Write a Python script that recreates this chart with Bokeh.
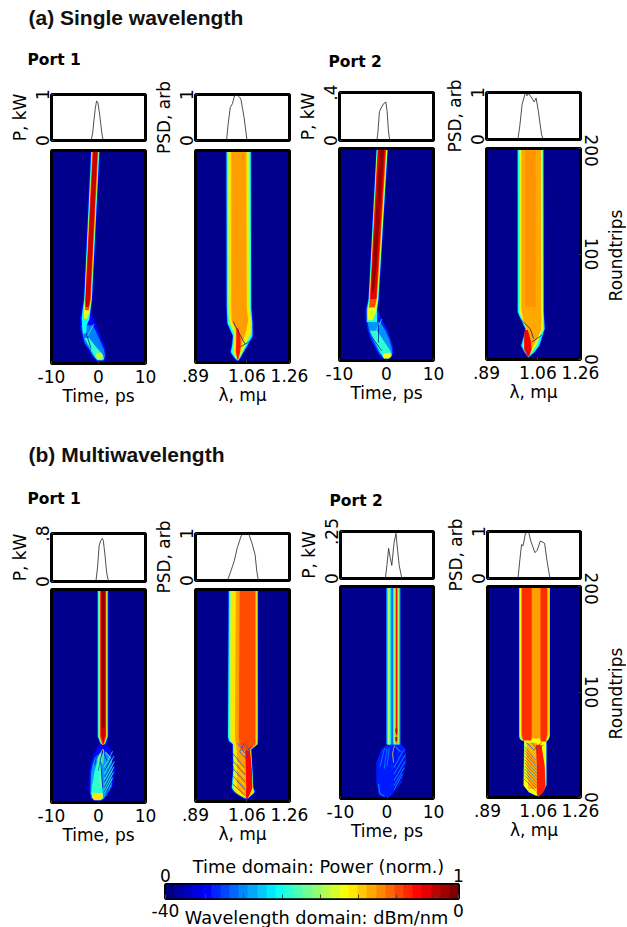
from bokeh.plotting import figure
from bokeh.layouts import column
from bokeh.models import Range1d, FixedTicker, LinearAxis, LinearColorMapper
from bokeh.embed import file_html
from bokeh.resources import INLINE
from bokeh.core.properties import value
import numpy as np
import math

# ---------- line panels: (x, y) ----------
A1T_X = [-1.78,-1.5,-1.23,-.96,-.68,-.41,-.14,.2,.55,.82,1.1]
A1T_Y = [0,.03,.17,.45,.7,.86,.83,.6,.3,.08,0]
A1S_X = [33,34.7,37,39.3,41.4,43.8,46.5,48.3,50,51.7,54.5,55.9]
A1S_Y = [0,.35,.72,.8,.97,1,.95,.9,.7,.5,.05,0]
A2T_X = [-2.05,-1.85,-1.5,-1.03,-.55,-.14,.14,.41,.69]
A2T_Y = [0,.06,.24,.28,.31,.32,.24,.08,0]
A2S_X = [33.4,35.5,37.9,41.4,43.1,44.8,48.3,50.7,52.8,55.2,58.6,60.3]
A2S_Y = [0,.3,.75,1,.93,.98,.88,.8,.88,.6,.1,0]
B1T_X = [-.55,-.2,.14,.48,.83,1.03,1.38,1.72,2,2.55]
B1T_Y = [0,.24,.6,.68,.72,.68,.44,.16,.04,0]
B1S_X = [34,37.6,41,44.5,48.6,51.4,56.5,60,63.4,65.2,66.9]
B1S_Y = [0,.2,.4,.7,.95,1,1,.8,.55,.2,0]
B2T_X = [-.35,0,.35,.69,1.03,1.52,1.93,2.28,2.62,3.2]
B2T_Y = [0,.075,.16,.11,.07,.19,.24,.15,.07,0]
B2S_X = [32.8,34.8,36.6,38.3,40.7,44.1,46.5,51,53.4,56.9,61.4,63.8,65.9,67.2]
B2S_Y = [0,.4,.72,.7,.95,1,.8,.55,.6,.8,.75,.4,.15,0]

# ---------- heat panels: nested level outlines (level, roundtrips, left, right) ----------
A1T_LAYERS = [
 (.13,[200,60,50,42,38,30,22,14,8,3,.5],[-1.75,-3.25,-3.7,-4,-3.9,-3.8,-3.4,-2.5,-1.6,-.6,-.3],[.35,-1.25,-1.5,-1.1,-.6,.1,.75,1.45,1.65,1.45,.75]),
 (.25,[36,28,20,13,7,3],[-3.7,-3.4,-3,-2,-1.2,-.3],[-1.2,-.3,.5,1.2,1.4,1.1]),
 (.38,[200,60,50,42,36,28],[-1.55,-3.05,-3.4,-3.6,-3.5,-3.3],[.2,-1.4,-1.7,-1.9,-2.5,-2.6]),
 (.42,[24,16,10,5,3],[-3,-2,-1.3,-.6,-.2],[-2,-.6,.6,1.2,.9]),
 (.56,[10,7,4],[-.6,-.5,-.2],[.6,1,.7]),
 (.6,[200,60,48,42],[-1.4,-2.95,-3.1,-3.1],[.05,-1.55,-1.9,-2.4]),
 (.8,[200,60,50],[-1.3,-2.85,-2.85],[-.05,-1.65,-2.05]),
 (.93,[200,60,53],[-1.15,-2.75,-2.7],[-.2,-1.8,-2.1]),
]
A1S_LAYERS = [
 (.15,[200,52,37,25,16,10,5,1.5,.3],[32,32.3,33,39,38,36.5,40,44,45],[59.7,60,61.5,61.7,56,52,49,46,45]),
 (.4,[200,52,37,25,16,10,5,2],[33,33.3,34,40,39,37.5,41,44.5],[58.8,59.2,60.5,60.5,55,51,48,45.5]),
 (.55,[200,52,38,28,18,10,4],[34.5,34.8,35.5,41,40.5,39.5,43],[57.5,58,59.5,59.5,54,50,46.5]),
 (.65,[200,52,38,28,18,10,4],[36,36,37,42,41.5,41,43.5],[55.5,56.5,58.5,58.5,52,48.5,46]),
 (.72,[200,52,40,30,20,10,3],[38,38,38.5,43,43,42.5,44.5],[54,54.5,56,54,50,47.5,45.5]),
 (.85,[32,22,10,3],[43.5,43.5,43,44.5],[45.5,48,47.5,45.5]),
]
A2T_LAYERS = [
 (.15,[200,58,48,40,30,20,12,6,2],[-2.2,-3.9,-4.5,-4.4,-4.1,-3.4,-2.5,-1.7,-1],[.4,-1.6,-1.8,-1.2,.1,.9,1.4,1.4,.9]),
 (.27,[36,28,20,12,6],[-4,-3.7,-3,-2.1,-1.4],[-1.3,-.2,.6,1.1,1.2]),
 (.4,[200,58,48,36],[-2.1,-3.8,-4.2,-4.2],[.25,-1.7,-2,-2]),
 (.42,[28,18,10,5,2],[-3.5,-2.5,-1.6,-1,-.5],[-2,-.5,.7,1.2,.6]),
 (.62,[7,4,2],[-.5,-.8,-.5],[.8,1,.4]),
 (.6,[200,58,46,38],[-2,-3.65,-4,-3.9],[.15,-1.85,-2.2,-2.9]),
 (.8,[200,60,50],[-1.9,-3.55,-3.7],[-.05,-2,-2.5]),
 (.9,[200,58],[-1.8,-3.45],[-.2,-2.2]),
 (.98,[200,88,65],[-1.45,-2.95,-3.1],[-.5,-2.15,-2.7]),
]
A2S_LAYERS = [
 (.15,[200,45,38,29,23,13,7,2.5,.5],[32.5,32.6,36,41,39.5,36,39.5,43.5,45],[61.2,61.5,62,62.5,60.5,57,52,46,45]),
 (.4,[200,45,38,29,23,13,7,2.5],[33.2,33.3,36.7,41.7,40.2,37,40.5,44],[60.5,60.8,61.3,61.8,59.5,56,51,45.5]),
 (.6,[200,45,38,29,23,13,6],[35,35,38,42.5,41.5,39,42],[59.5,60,60,60.5,57,53,47]),
 (.71,[200,48,38,28,18,8],[37,37,39,43.5,42,42],[58,58,58.5,58,53,47]),
 (.73,[200,50],[41,41],[52,52]),
 (.88,[28,18,10,3],[40.5,40,40,43.5],[44,47,48,45.5]),
]
B1T_LAYERS = [
 (.13,[200,64,55,50,44,30,18,10,4,1],[-.35,-.35,.2,-.5,-1.2,-2,-2.1,-2.1,-1.6,-.8],[2.15,2.15,1.8,2.6,3.2,3.5,3.3,2.4,1.4,.6]),
 (.28,[47,42,35,28,15,8,3],[.2,-.8,-1.3,-1.6,-1.7,-1.7,-1],[1.6,2.7,3,3,2.8,1.8,1]),
 (.42,[45,30,15,8,3],[.2,-.8,-1.4,-1.6,-1],[.9,.6,.8,.9,.9]),
 (.55,[9,5,2],[-1.2,-1.5,-.9],[.9,1,.5]),
 (.65,[8,5,2.5],[-1,-1.2,-.7],[.7,.8,.3]),
 (.2,[200,62,56],[-.25,-.25,.3],[2.05,2.05,1.6]),
 (.4,[200,62,55],[-.1,-.1,.5],[1.95,1.95,1.4]),
 (.55,[200,62,55],[.05,.05,.6],[1.85,1.85,1.3]),
 (.7,[200,62,54],[.2,.2,.7],[1.7,1.7,1.2]),
 (.82,[200,62,54],[.35,.35,.85],[1.6,1.6,1.1]),
 (.92,[200,64,56],[.5,.5,.9],[1.5,1.5,1.1]),
 (.98,[200,70],[.7,.7],[1.35,1.35]),
]
B1S_LAYERS = [
 (.15,[200,61,57,54,49,30,13,9,2.5,.5],[34.6,33.8,34.8,39,39,39.5,37.8,40.5,52,54.5],[66.8,67,66.8,66.8,59.8,61,62,64,56,54.5]),
 (.4,[200,61,57,54,49,30,13,9,3],[35.5,34.6,35.6,39.8,39.8,40.3,38.6,41.5,52],[66.2,66.3,66.2,66,59.2,60.5,61.5,63,56]),
 (.55,[200,61,57,54,49,30,13,8,4],[37,36,37,40.6,40.6,41,39.5,42.5,51],[65.5,65.6,65.5,65.5,58.8,60,61,62,57]),
 (.65,[200,61,57,54,49,30,13,8,4],[39,38,39,41.5,41.5,42,40.5,43.5,51.5],[65,65,65,65,58.3,59.5,60.5,61.5,56.5]),
 (.72,[200,60,54,48,30,13,5],[43,42,43,44,44,44,52.5],[64.6,64.6,64.6,58,59,60,56]),
 (.8,[200,60,54,48],[47,46,47,50],[63.5,63.5,63.5,57]),
 (.87,[48,30,13,5,3],[53,53.5,54,53.5,54],[58,60,60.5,57,55]),
]
B2T_LAYERS = [
 (.15,[52,47,34,15,3,1],[.3,-1.2,-2.3,-2.3,-1.7,-.8],[2.9,4,4.1,3.1,1,.2]),
 (.19,[200,52],[-.2,-.2],[2.9,2.9]),
 (.3,[200,51],[-.1,-.1],[1,1]),
 (.42,[200,51],[.08,.08],[.78,.78]),
 (.55,[200,51],[.22,.22],[.6,.6]),
 (.3,[200,51],[1.2,1.2],[2.85,2.85]),
 (.42,[200,51],[1.35,1.35],[2.65,2.65]),
 (.6,[200,52],[1.6,1.6],[2.48,2.48]),
 (.75,[200,52],[1.8,1.8],[2.3,2.3]),
 (.87,[200,60],[1.92,1.92],[2.2,2.2]),
 (.92,[66,62],[1.8,1.8],[2.2,2.2]),
 (.92,[58,54],[1.8,1.8],[2.2,2.2]),
]
B2S_LAYERS = [
 (.15,[200,58,55,53,11.5,5,1,.3],[33.6,33.6,34.5,39,38.3,44,52.5,54.5],[67.4,67.4,66,63.8,63.8,59.7,56,54.5]),
 (.4,[200,58,55,53,11.5,5,2],[34,34,35,39.4,38.7,44.5,52.5],[67,67,65.6,63.4,63.4,59.4,56]),
 (.62,[200,58,55,53,11,5,2],[35,35,36,39.8,39.2,45,52],[66.5,66.5,65,63,63,59,55]),
 (.72,[200,60,56],[36,36,37],[65.5,65.5,64]),
 (.7,[52,30,8],[42,42,44],[53,53,53]),
 (.83,[200,60,54],[37,37,38],[47.5,47.5,47]),
 (.83,[200,60,53],[57,57,57],[64,64,63]),
 (.85,[50,30,10,4,1.5],[52,53,53,53,54],[58,61.5,62.5,59,55]),
]

# ---------- fine streaks: (level, [(x, roundtrip), ...]) ----------
A1T_STREAKS = [(.03,[(-2.7,29),(-2,20),(-1.6,14)]),(.45,[(-1,37),(-2.3,26)]),(.03,[(-3,18),(-2.2,14),(-1.6,12)])]
A1S_STREAKS = [(.03,[(40,38.6),(48,25),(52.7,17.5)]),(.03,[(47.7,14.7),(58,20)])]
A2T_STREAKS = [(.45,[(-1,39),(-2.4,26)]),(.03,[(-1.7,34),(-1.7,17)]),(.03,[(-3.1,22),(-1,9)])]
A2S_STREAKS = [(.03,[(36,38.4),(46.6,29),(50,20)]),(.03,[(48,16.5),(58.6,22.8)])]
B1T_STREAKS = [(.04,[(3.2,46),(1.4,30)]),(.04,[(3.4,41),(1.4,24)]),(.04,[(3.4,36),(1.3,19)]),(.04,[(3.3,31),(1.3,14)]),(.04,[(3.1,26),(1.3,10)]),(.04,[(2.8,20),(1.5,8)]),
 (.45,[(3,48),(1.2,33)]),(.45,[(3.3,43.5),(1.2,27)]),(.45,[(3.4,38.5),(1.2,21.5)]),(.45,[(3.3,33.5),(1.2,16.5)]),(.45,[(3.2,28.5),(1.2,12)]),(.45,[(3,23),(1.3,9)]),
 (.04,[(1,52),(-.5,42),(-.8,35)]),(.04,[(1.2,52),(.5,42),(0,30)]),(.04,[(1.3,50),(2.5,44)]),(.04,[(1.2,46),(1.8,39)]),
 (.6,[(.9,50),(-.2,40)]),(.6,[(1.1,50),(.9,36)]),(.6,[(1.4,48),(2.6,42)]),(.5,[(0,40),(.5,15)]),(.04,[(.5,38),(.9,14)])]
B1S_STREAKS = [(.2,[(40,45),(52,32)]),(.2,[(40,38),(53,25)]),(.2,[(40,31),(53,18)]),(.2,[(40,24),(53,11)]),(.2,[(39,17),(52,6)]),(.2,[(39,11),(47,5)]),
 (.62,[(40,42),(52,29)]),(.62,[(40,35),(53,22)]),(.62,[(40,28),(53,15)]),(.62,[(40,21),(52,9)]),
 (.2,[(45,55),(52,46),(60,52)]),(.2,[(52,55),(58,48),(53,41),(47,47),(52,55)])]
B2T_STREAKS = [(.06,[(3.8,44),(1.6,26)]),(.06,[(3.9,38),(1.6,20)]),(.06,[(3.8,32),(1.6,14)]),(.06,[(3.5,26),(1.5,9)]),(.06,[(3.1,19),(1.6,7)]),
 (.3,[(3.6,46),(1.5,29)]),(.3,[(3.9,41),(1.5,23)]),(.3,[(3.9,35),(1.5,17)]),(.3,[(3.7,29),(1.5,12)]),(.3,[(3.3,23),(1.5,8)]),
 (.65,[(1.6,50),(1.2,42),(1.4,34)]),(.42,[(1.8,49),(2.9,44)]),(.06,[(1.6,48),(1.9,36)]),
 (.28,[(-.5,48),(-1.5,30)]),(.28,[(0,48),(-.6,28)]),(.28,[(.5,48),(0,30)]),(.32,[(-1.8,14),(-1.6,5),(-.5,2)])]
B2S_STREAKS = [(.25,[(40,48),(52,35)]),(.25,[(40,42),(53,29)]),(.25,[(40,36),(53,23)]),(.25,[(40,30),(53,17)]),(.25,[(40,24),(53,11)]),(.25,[(39,18),(52,6)]),
 (.85,[(40,45),(52,32)]),(.85,[(40,39),(53,26)]),(.85,[(40,33),(53,20)]),(.85,[(40,27),(53,14)]),(.85,[(40,21),(52,9)]),
 (.2,[(42,52),(50,45),(58,52)]),(.2,[(48,52),(54,45),(60,50)])]

# ---------- axes ----------
TIME_TICKS = [-10, 0, 10]
TIME_LABELS = ["-10", "0", "10"]
LAM_TICKS = [0, 54.6, 100]
LAM_LABELS = [".89", "1.06", "1.26"]
RT_TICKS = [0, 100, 200]
CB_TOP_TICKS = [0, 1]
CB_BOTTOM_TICKS = [-40, -34.6, -29.3, -24, -18.8, -13.6, -8.4, -3, 0]
CB_VALUES = list(range(32))

FONT = "DejaVu Sans"
FS = "17px"
NAVY = "#00008c"


def jet(v):
    c = [min(1, max(0, 1.5 - abs(4 * v - k))) for k in (3, 2, 1)]
    return "#%02x%02x%02x" % tuple(int(round(255 * t)) for t in c)


def place(x, y):
    return {"position": "absolute", "left": f"{x}px", "top": f"{y}px"}


def base(fx0, fy0, fx1, fy1, xr, yr, br=30, bl=60, bb=48, bt=14):
    bl = min(bl, fx0)
    p = figure(frame_width=fx1 - fx0, frame_height=fy1 - fy0, x_range=xr, y_range=yr, frame_align=False,
               output_backend="svg", toolbar_location=None, x_axis_location=None, y_axis_location=None,
               min_border_left=bl, min_border_right=br, min_border_top=bt, min_border_bottom=bb,
               border_fill_color=None, background_fill_color=None,
               outline_line_color="black", outline_line_width=3,
               styles=place(fx0 - bl, fy0 - bt))
    p.width = bl + fx1 - fx0 + br
    p.height = bt + fy1 - fy0 + bb
    p.grid.visible = False
    return p


def style(ax):
    ax.axis_line_color = None
    ax.major_tick_out = 0
    ax.major_tick_in = 2
    ax.major_tick_line_color = "#444444"
    ax.minor_tick_line_color = None
    ax.major_label_text_font = FONT
    ax.major_label_text_font_size = FS
    ax.major_label_text_color = "black"
    ax.axis_label_text_font = FONT
    ax.axis_label_text_font_size = FS
    ax.axis_label_text_font_style = "normal"
    ax.axis_label_text_color = "black"


def top_panel(frame, X, Y, xlim, ymax, ymax_label, ylabel):
    p = base(*frame, Range1d(*xlim), Range1d(0, ymax))
    ax = LinearAxis(ticker=FixedTicker(ticks=[0, ymax]), major_label_overrides={0: "0", ymax: ymax_label},
                    major_label_orientation="vertical", axis_label=ylabel)
    style(ax)
    ax.major_label_standoff = 3
    ax.axis_label_standoff = 3
    p.add_layout(ax, "left")
    p.line(X, Y, line_color="#222222", line_width=0.8)
    return p


def heat_surface(frame, layers, streaks, xlim):
    fx0, fy0, fx1, fy1 = frame
    p = figure(frame_width=fx1 - fx0, frame_height=fy1 - fy0, x_range=Range1d(*xlim), y_range=Range1d(0, 200),
               frame_align=False, output_backend="svg", toolbar_location=None, x_axis_location=None, y_axis_location=None,
               min_border=0, outline_line_color=None, border_fill_color=None, background_fill_color=NAVY,
               styles={**place(fx0, fy0), "filter": "blur(0.7px)"})
    p.width = fx1 - fx0
    p.height = fy1 - fy0
    p.grid.visible = False
    for lev, rts, L, R in layers:
        p.patch(list(L) + list(R)[::-1], list(rts) + list(rts)[::-1], fill_color=jet(lev), line_color=None)
    for lev, pts in streaks:
        p.line([a for a, _ in pts], [b for _, b in pts], line_color=jet(lev), line_width=0.7)
    return p


def heat_frame(frame, xlim, xticks, xlabels, xlabel, right=False):
    p = base(*frame, Range1d(*xlim), Range1d(0, 200), br=30)
    ax = LinearAxis(ticker=FixedTicker(ticks=xticks), major_label_overrides=dict(zip(xticks, xlabels)), axis_label=xlabel)
    style(ax)
    ax.major_label_standoff = 6
    ax.axis_label_standoff = 0
    p.add_layout(ax, "below")
    if right:
        ay = LinearAxis(ticker=FixedTicker(ticks=RT_TICKS), major_label_orientation="vertical")
        style(ay)
        ay.major_label_standoff = 4
        p.add_layout(ay, "right")
    return p


def text_layer(x0, y0, x1, y1):
    p = figure(frame_width=x1 - x0, frame_height=y1 - y0, x_range=Range1d(x0, x1), y_range=Range1d(y1, y0), frame_align=False,
               output_backend="svg", toolbar_location=None, x_axis_location=None, y_axis_location=None,
               min_border=0, outline_line_color=None, border_fill_color=None, background_fill_color=None,
               styles=place(x0, y0))
    p.width = x1 - x0
    p.height = y1 - y0
    p.grid.visible = False
    return p


TITLES = [("(a) Single wavelength", 28, 17), ("(b) Multiwavelength", 28, 454)]
PORTS = [("Port 1", 27, 59), ("Port 2", 328, 61), ("Port 1", 27, 498), ("Port 2", 329, 500)]
CB_LABELS = [("Time domain: Power (norm.)", 318, 866), ("Wavelength domain: dBm/nm", 316, 917)]
RT_LABELS = [("Roundtrips", 615, 255), ("Roundtrips", 615, 693)]

page = text_layer(0, 0, 600, 520)
page.text([t[1] for t in TITLES], [t[2] for t in TITLES], text=[t[0] for t in TITLES], text_font=value("Liberation Sans"),
          text_font_style="bold", text_font_size="21px", text_baseline="middle", text_color="#111111")
page.text([t[1] for t in PORTS], [t[2] for t in PORTS], text=[t[0] for t in PORTS], text_font=value(FONT),
          text_font_style="bold", text_font_size="15.5px", text_baseline="middle", text_color="black")
cbtext = text_layer(150, 850, 490, 927)
cbtext.text([t[1] for t in CB_LABELS], [t[2] for t in CB_LABELS], text=[t[0] for t in CB_LABELS], text_font=value(FONT),
            text_font_size="17.7px", text_baseline="middle", text_align="center", text_color="black")
rttext = text_layer(604, 180, 626, 760)
rttext.text([t[1] for t in RT_LABELS], [t[2] for t in RT_LABELS], text=[t[0] for t in RT_LABELS], text_font=value(FONT),
            text_font_size=FS, text_baseline="middle", text_align="center", angle=math.pi / 2, text_color="black")

T = (-10, 10)
S = (0, 100)
COLX = [(51, 145), (195, 289), (339, 433), (486, 580), (51, 145), (195, 289), (340, 433), (487, 580)]
TOPY = [(94, 140), (94, 140), (92, 140), (92, 139), (533, 581), (533, 580), (531, 578), (531, 578)]
HEATY = [(150, 363), (150, 362), (148, 360), (148, 359), (589, 802), (589, 801), (586, 798), (586, 797)]
TOPS = [(A1T_X, A1T_Y, T, 1, "1", "P, kW"), (A1S_X, A1S_Y, S, 1, "1", "PSD, arb"),
        (A2T_X, A2T_Y, T, .4, ".4", "P, kW"), (A2S_X, A2S_Y, S, 1, "1", "PSD, arb"),
        (B1T_X, B1T_Y, T, .8, ".8", "P, kW"), (B1S_X, B1S_Y, S, 1, "1", "PSD, arb"),
        (B2T_X, B2T_Y, T, .25, ".25", "P, kW"), (B2S_X, B2S_Y, S, 1, "1", "PSD, arb")]
HEATS = [(A1T_LAYERS, A1T_STREAKS), (A1S_LAYERS, A1S_STREAKS), (A2T_LAYERS, A2T_STREAKS), (A2S_LAYERS, A2S_STREAKS),
         (B1T_LAYERS, B1T_STREAKS), (B1S_LAYERS, B1S_STREAKS), (B2T_LAYERS, B2T_STREAKS), (B2S_LAYERS, B2S_STREAKS)]

figs = [page, cbtext, rttext]
for i in range(8):
    x0, x1 = COLX[i]
    X, Y, xl, ym, yl, lab = TOPS[i]
    figs.append(top_panel((x0, TOPY[i][0], x1, TOPY[i][1]), X, Y, xl, ym, yl, lab))
    lay, st = HEATS[i]
    frame = (x0, HEATY[i][0], x1, HEATY[i][1])
    if i % 2 == 0:
        figs.append(heat_surface(frame, lay, st, T))
        figs.append(heat_frame(frame, T, TIME_TICKS, TIME_LABELS, "Time, ps"))
    else:
        figs.append(heat_surface(frame, lay, st, S))
        figs.append(heat_frame(frame, S, LAM_TICKS, LAM_LABELS, "\u03bb, m\u03bc", right=(i % 4 == 3)))

# colour bar
cb = base(165, 884, 458, 898, Range1d(0, 1), Range1d(0, 1), br=20, bl=40, bb=29, bt=24)
mapper = LinearColorMapper(palette=[jet(k / 31) for k in CB_VALUES], low=0, high=31)
cb.image(image=[np.array([CB_VALUES])], x=0, y=0, dw=1, dh=1, color_mapper=mapper)
cb.extra_x_ranges = {"dbm": Range1d(-40, 0)}
at = LinearAxis(ticker=FixedTicker(ticks=CB_TOP_TICKS), major_label_overrides={0: "0", 1: "1"})
style(at)
at.major_tick_in = 0
at.major_label_standoff = 3
cb.add_layout(at, "above")
over = {t: "" for t in CB_BOTTOM_TICKS}
over[-40] = "-40"
over[0] = "0"
ab = LinearAxis(x_range_name="dbm", ticker=FixedTicker(ticks=CB_BOTTOM_TICKS), major_label_overrides=over)
style(ab)
ab.major_tick_in = 4
ab.major_label_standoff = 5
cb.add_layout(ab, "below")
figs.append(cb)

root = column(*figs, width=611, height=911)
open("out.html", "w").write(file_html(root, INLINE))
